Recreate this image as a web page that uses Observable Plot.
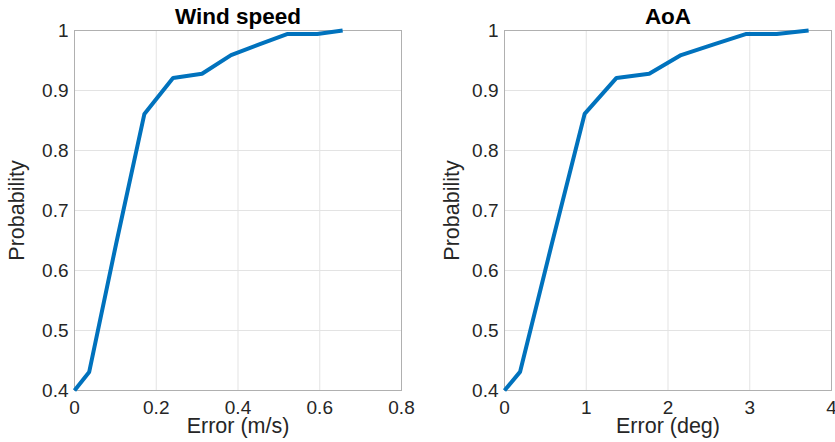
<!DOCTYPE html>
<html>
<head>
<meta charset="utf-8">
<script src="https://cdn.jsdelivr.net/npm/d3@7"></script>
<script src="https://cdn.jsdelivr.net/npm/@observablehq/plot@0.6"></script>
<style>
  html, body { margin: 0; padding: 0; background: #fff; }
  #wrap { display: flex; width: 835px; height: 442px; }
</style>
</head>
<body>
<div id="wrap"></div>
<script>
// Data
const windError = [0, 0.036, 0.102, 0.171, 0.241, 0.312, 0.383, 0.452, 0.520, 0.594, 0.656];
const aoaError  = [0, 0.19, 0.58, 0.98, 1.37, 1.77, 2.16, 2.56, 2.95, 3.33, 3.72];
const probability = [0.4, 0.431, 0.645, 0.861, 0.921, 0.928, 0.959, 0.977, 0.994, 0.994, 1.0];

const windTicks = [0, 0.2, 0.4, 0.6, 0.8];
const aoaTicks  = [0, 1, 2, 3, 4];
const probTicks = [0.4, 0.5, 0.6, 0.7, 0.8, 0.9, 1];

const titles = ["Wind speed", "AoA"];
const xLabels = ["Error (m/s)", "Error (deg)"];
const yLabel = "Probability";

const fmt = d3.format("~g");
const FONT = "'Liberation Sans', Arial, Helvetica, sans-serif";

function panel({xs, xDomain, xTicks, title, xLabel, width, marginLeft, marginRight, yLabelDx}) {
  const data = xs.map((x, i) => ({x, y: probability[i]}));
  return Plot.plot({
    width, height: 442,
    marginTop: 30, marginBottom: 52, marginLeft, marginRight,
    style: {fontFamily: FONT, background: "#fff", color: "#262626", overflow: "visible"},
    x: {domain: xDomain, ticks: xTicks, tickFormat: fmt, label: null},
    y: {domain: [0.4, 1], ticks: probTicks, tickFormat: fmt, label: null},
    marks: [
      Plot.gridX(xTicks, {stroke: "#e3e3e3", strokeOpacity: 1}),
      Plot.gridY(probTicks, {stroke: "#e3e3e3", strokeOpacity: 1}),
      Plot.frame({stroke: "#b0b0b0"}),
      Plot.axisX(xTicks, {tickSize: 0, tickPadding: 10, fontSize: 19, tickFormat: fmt, label: null, fill: "#262626"}),
      Plot.axisY(probTicks, {tickSize: 0, tickPadding: 6, fontSize: 19, tickFormat: fmt, label: null, fill: "#262626"}),
      Plot.line(data, {x: "x", y: "y", stroke: "#0072BD", strokeWidth: 4, strokeLinejoin: "miter", strokeLinecap: "butt"}),
      Plot.text([title], {frameAnchor: "top", lineAnchor: "middle", dy: -14, fontSize: 22.5, fontWeight: "bold", fill: "#000"}),
      Plot.text([xLabel], {frameAnchor: "bottom", lineAnchor: "middle", dy: 36, fontSize: 21.5, fill: "#262626"}),
      Plot.text([yLabel], {frameAnchor: "left", lineAnchor: "middle", textAnchor: "middle", dx: yLabelDx, rotate: -90, fontSize: 21.5, fill: "#262626"})
    ]
  });
}

const wrap = document.getElementById("wrap");
wrap.appendChild(panel({
  xs: windError, xDomain: [0, 0.8], xTicks: windTicks,
  title: titles[0], xLabel: xLabels[0],
  width: 417, marginLeft: 74, marginRight: 16, yLabelDx: -57
}));
wrap.appendChild(panel({
  xs: aoaError, xDomain: [0, 4], xTicks: aoaTicks,
  title: titles[1], xLabel: xLabels[1],
  width: 418, marginLeft: 87, marginRight: 4, yLabelDx: -52
}));
</script>
</body>
</html>
